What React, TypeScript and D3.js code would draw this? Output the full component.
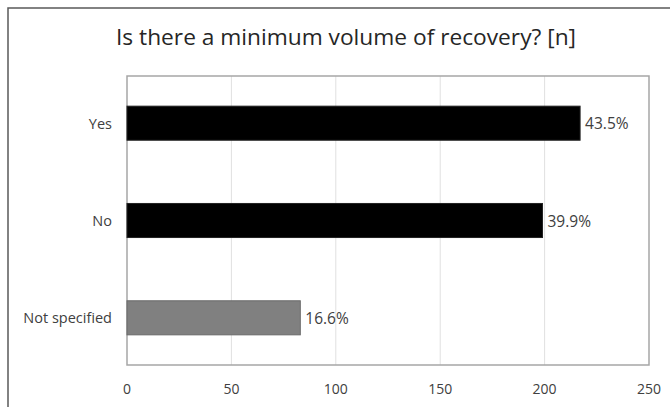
import React from 'react';
import * as d3 from 'd3';

const title = 'Is there a minimum volume of recovery? [n]';
const categories = ['Yes', 'No', 'Not specified'];
const counts = [217, 199, 83];
const percentLabels = ['43.5%', '39.9%', '16.6%'];
const barColors = ['#000000', '#000000', '#808080'];
const xTicks = [0, 50, 100, 150, 200, 250];

const W = 670;
const H = 407;
const font = "'Open Sans', 'Noto Sans', sans-serif";

const App = () => {
  const x = d3.scaleLinear().domain([0, 250]).range([127, 649]);
  const y = d3
    .scaleBand<string>()
    .domain(categories)
    .range([76, 365])
    .paddingInner(0.65)
    .paddingOuter(0.31);

  const [x0, x1] = x.range();
  const [y0, y1] = y.range();

  return (
    <svg
      width={W}
      height={H}
      style={{ position: 'absolute', left: 0, top: 0, background: '#fff' }}
      fontFamily={font}
    >
      {/* chart area border */}
      <rect x={8} y={8} width={W} height={H} fill="#fff" stroke="#595959" strokeWidth={1.5} />

      <text x={346} y={45} textAnchor="middle" fontSize={21} fill="#262626" textLength={460} lengthAdjust="spacingAndGlyphs">
        {title}
      </text>

      {/* grid */}
      {xTicks.slice(1, -1).map((t) => (
        <line key={t} x1={x(t)} x2={x(t)} y1={y0} y2={y1} stroke="#e0e0e0" strokeWidth={1} />
      ))}
      <rect x={x0} y={y0} width={x1 - x0} height={y1 - y0} fill="none" stroke="#a6a6a6" strokeWidth={1.5} />

      {categories.map((c, i) => (
        <g key={c}>
          <rect
            x={x(0)}
            y={y(c)}
            width={x(counts[i]) - x(0)}
            height={y.bandwidth()}
            fill={barColors[i]}
            stroke={i === 2 ? '#6a6a6a' : '#222'}
            strokeWidth={1}
          />
          <text
            x={x(counts[i]) + 5}
            y={(y(c) as number) + y.bandwidth() / 2}
            dominantBaseline="central"
            fontSize={15.5}
            fill="#404040"
          >
            {percentLabels[i]}
          </text>
          <text
            x={112}
            y={(y(c) as number) + y.bandwidth() / 2}
            dominantBaseline="central"
            textAnchor="end"
            fontSize={14.5}
            fill="#404040"
          >
            {c}
          </text>
        </g>
      ))}

      {xTicks.map((t) => (
        <text key={t} x={x(t)} y={388} dominantBaseline="central" textAnchor="middle" fontSize={14} fill="#404040">
          {t}
        </text>
      ))}
    </svg>
  );
};

export default App;
